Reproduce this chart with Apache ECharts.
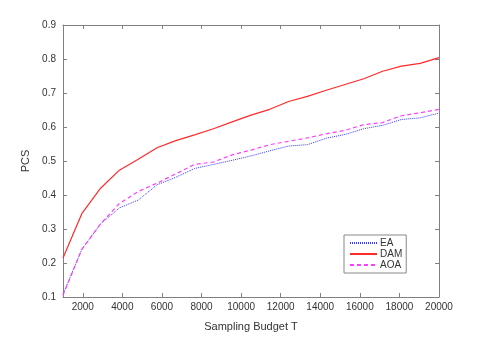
<!DOCTYPE html>
<html>
<head>
<meta charset="utf-8">
<script src="https://cdn.jsdelivr.net/npm/echarts@6/dist/echarts.min.js"></script>
<style>html,body{margin:0;padding:0;background:#fff}#c{width:485px;height:337px}</style>
</head>
<body>
<div id="c"></div>
<script>
const budgets = [1000,1950,2900,3850,4800,5750,6700,7650,8600,9550,10500,11450,12400,13350,14300,15250,16200,17150,18100,19050,20000];
const ea  = [0.108,0.240,0.315,0.362,0.385,0.430,0.452,0.478,0.490,0.502,0.515,0.530,0.544,0.548,0.567,0.578,0.595,0.605,0.622,0.627,0.641];
const dam = [0.215,0.345,0.420,0.473,0.505,0.539,0.560,0.577,0.595,0.615,0.635,0.652,0.675,0.690,0.708,0.725,0.742,0.764,0.779,0.787,0.804];
const aoa = [0.105,0.240,0.315,0.375,0.410,0.435,0.462,0.490,0.497,0.518,0.532,0.548,0.558,0.568,0.580,0.590,0.607,0.613,0.633,0.642,0.652];
const xTicks = [2000,4000,6000,8000,10000,12000,14000,16000,18000,20000];
const yTicks = [0.1,0.2,0.3,0.4,0.5,0.6,0.7,0.8,0.9];

const axisCol = '#808080';
const font = 'Liberation Sans, Arial, sans-serif';
const pair = a => budgets.map((b,i)=>[b,a[i]]);

const chart = echarts.init(document.getElementById('c'), null, {renderer:'canvas'});
const xBase = {
  type:'value', min:1000, max:20000,
  axisLine:{show:true, onZero:false, lineStyle:{color:axisCol, width:1}},
  axisTick:{show:true, inside:true, length:4, customValues:xTicks, lineStyle:{color:axisCol}},
  splitLine:{show:false}
};
const yBase = {
  type:'value', min:0.1, max:0.9, interval:0.1,
  axisLine:{show:true, onZero:false, lineStyle:{color:axisCol, width:1}},
  axisTick:{show:true, inside:true, length:4, lineStyle:{color:axisCol}},
  splitLine:{show:false}
};
chart.setOption({
  animation:false,
  backgroundColor:'#fff',
  grid:{left:63, right:46, top:25, bottom:37, containLabel:false},
  xAxis:[
    Object.assign({}, xBase, {position:'bottom',
      name:'Sampling Budget T', nameLocation:'middle', nameGap:24,
      nameTextStyle:{fontFamily:font, fontSize:11, color:'#333'},
      axisLabel:{show:true, customValues:xTicks, margin:5, fontFamily:font, fontSize:10, color:'#333', formatter:v=>String(v)}}),
    Object.assign({}, xBase, {position:'top', axisLabel:{show:false}})
  ],
  yAxis:[
    Object.assign({}, yBase, {position:'left',
      name:'PCS', nameLocation:'middle', nameGap:26, nameRotate:90,
      nameTextStyle:{fontFamily:font, fontSize:11, color:'#333'},
      axisLabel:{show:true, margin:7, fontFamily:font, fontSize:10, color:'#333', formatter:v=>v.toFixed(1)}}),
    Object.assign({}, yBase, {position:'right', axisLabel:{show:false}})
  ],
  legend:{
    orient:'vertical', left:344, top:235,
    data:['EA','DAM','AOA'],
    backgroundColor:'#fff', borderColor:'#888', borderWidth:1, borderRadius:0,
    padding:[3,4,3,5], itemGap:1, itemWidth:27, itemHeight:10,
    itemStyle:{opacity:0, borderWidth:0},
    textStyle:{fontFamily:font, fontSize:10, color:'#333', padding:[0,0,0,-2]}
  },
  series:[
    {name:'EA', type:'line', data:pair(ea), symbol:'none', color:'#3838ff',
      lineStyle:{color:'#3838ff', width:1, type:[1,1]}},
    {name:'DAM', type:'line', data:pair(dam), symbol:'none', color:'#ff2a2a',
      lineStyle:{color:'#ff2a2a', width:1.2, type:'solid'}},
    {name:'AOA', type:'line', data:pair(aoa), symbol:'none', color:'#ff3cff',
      lineStyle:{color:'#ff3cff', width:1.2, type:[4,3]}}
  ]
});
</script>
</body>
</html>
